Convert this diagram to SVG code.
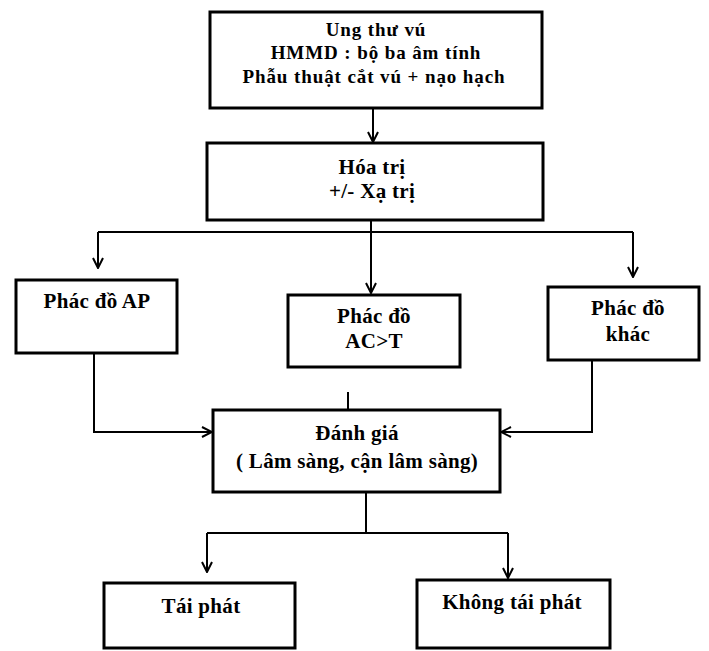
<svg xmlns="http://www.w3.org/2000/svg" width="709" height="651" viewBox="0 0 709 651">
<style>
.box{fill:#fff;stroke:#000;stroke-width:3}
.c{fill:none;stroke:#000;stroke-width:2}
text{font-family:"Liberation Serif","Times New Roman",serif;font-weight:bold;font-size:21px;letter-spacing:0.3px;fill:#000;text-anchor:middle}
text.t{font-size:19px;letter-spacing:0.9px}
</style>
<defs>
<marker id="ah" viewBox="0 0 12 12" refX="11" refY="6" markerWidth="12" markerHeight="12" markerUnits="userSpaceOnUse" orient="auto">
<path d="M1,1 L11,6 L1,11" fill="none" stroke="#000" stroke-width="2"/>
</marker>
</defs>
<rect width="709" height="651" fill="#fff"/>
<g id="connectors">
<path class="c" d="M373,108 V142" marker-end="url(#ah)"/>
<path class="c" d="M98,232 H633"/>
<path class="c" d="M98,232 V268" marker-end="url(#ah)"/>
<path class="c" d="M633,232 V277" marker-end="url(#ah)"/>
<path class="c" d="M371,220 V293" marker-end="url(#ah)"/>
<path class="c" d="M94,353 V432 H212" marker-end="url(#ah)"/>
<path class="c" d="M592,360 V432 H501" marker-end="url(#ah)"/>
<path class="c" d="M348,392 V410"/>
<path class="c" d="M366,492 V533"/>
<path class="c" d="M207,533 H508"/>
<path class="c" d="M207,533 V572" marker-end="url(#ah)"/>
<path class="c" d="M508,533 V578" marker-end="url(#ah)"/>
</g>
<g id="n1"><rect class="box" x="210" y="12" width="332" height="96"/>
<text class="t" x="376" y="36">Ung thư  vú</text>
<text class="t" x="376" y="59">HMMD : bộ ba âm tính</text>
<text class="t" x="374" y="83">Phẫu thuật cắt vú + nạo hạch</text></g>
<g id="n2"><rect class="box" x="207" y="143" width="336" height="77"/>
<text x="372" y="174">Hóa trị</text>
<text x="372" y="198">+/- Xạ trị</text></g>
<g id="n3"><rect class="box" x="16" y="280" width="161" height="73"/>
<text x="97" y="308">Phác đồ AP</text></g>
<g id="n4"><rect class="box" x="288" y="295" width="172" height="72"/>
<text x="374" y="323">Phác đồ</text>
<text x="374" y="348">AC&gt;T</text></g>
<g id="n5"><rect class="box" x="548" y="287" width="151" height="73"/>
<text x="628" y="315">Phác đồ</text>
<text x="628" y="341">khác</text></g>
<g id="n6"><rect class="box" x="213" y="410" width="287" height="82"/>
<text x="357" y="440">Đánh giá</text>
<text x="357" y="468">( Lâm sàng, cận lâm sàng)</text></g>
<g id="n7"><rect class="box" x="104" y="583" width="191" height="65"/>
<text x="201" y="613">Tái phát</text></g>
<g id="n8"><rect class="box" x="417" y="580" width="193" height="68"/>
<text x="512" y="609">Không tái phát</text></g>
</svg>
